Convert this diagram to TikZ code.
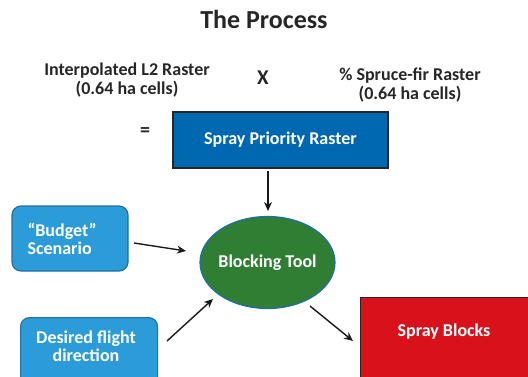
\documentclass[tikz,border=0pt]{standalone}
\usepackage{fontspec}
\setmainfont{Carlito}
\usetikzlibrary{shapes.geometric,arrows.meta}
\definecolor{boxblue}{HTML}{0067B1}
\definecolor{lightblue}{HTML}{2B9CD8}
\definecolor{lbborder}{HTML}{1F6FA8}
\definecolor{dkgreen}{HTML}{2F7E34}
\definecolor{spred}{HTML}{D9111B}
\definecolor{txt}{HTML}{262626}
\tikzset{
  lbl/.style={font=\bfseries\fontsize{18}{18.5}\selectfont, text=txt, align=center},
  sqbox/.style={draw=txt, line width=1.2pt, text=white, font=\bfseries\fontsize{18}{18.5}\selectfont},
  rbox/.style={draw=lbborder, line width=1.2pt, fill=lightblue, rounded corners=9pt},
  arr/.style={-{Stealth[length=9pt,width=8pt]}, line width=1.4pt, black!90}
}
\begin{document}
\begin{tikzpicture}[x=1pt,y=1pt]
\useasboundingbox (0,0) rectangle (528,376);
\node[font=\bfseries\fontsize{26}{28}\selectfont, text=txt] (title) at (264,357) {The Process};
\node[lbl] (l2) at (127,296) {Interpolated L2 Raster\\(0.64 ha cells)};
\node[font=\bfseries\fontsize{21}{22}\selectfont, text=txt] (x) at (263,298) {X};
\node[lbl] (sf) at (410,291) {\% Spruce-fir Raster\\(0.64 ha cells)};
\node[font=\bfseries\fontsize{20}{22}\selectfont, text=txt] (eq) at (145,244) {=};
\node[sqbox, fill=boxblue, minimum width=215pt, minimum height=56pt] (spr) at (280.5,236) {Spray Priority Raster};
\node[ellipse, draw=lbborder, line width=1.2pt, fill=dkgreen, minimum width=135pt, minimum height=92pt, inner sep=0pt] (bt) at (267.5,113.5) {};
\node[lbl, text=white] (btt) at (bt.center) {Blocking Tool};
\node[rbox, minimum width=116pt, minimum height=65pt] (bud) at (70,137.5) {};
\node[lbl, text=white, align=left, anchor=west] (budt) at (24,137) {“Budget”\\Scenario};
\node[rbox, minimum width=137pt, minimum height=70pt, anchor=north west] (dfd) at (20,59) {};
\node[lbl, text=white] (dfdt) at (86,30) {Desired flight\\direction};
\node[sqbox, fill=spred, minimum width=180pt, minimum height=88pt, anchor=north west] (sb) at (360,79) {};
\node[lbl, text=white] (sbt) at (444,44) {Spray Blocks};
\coordinate (a1s) at (268,205);
\coordinate (a1e) at (268,165);
\draw[arr] (a1s) -- (a1e);
\coordinate (a2s) at (134,133);
\coordinate (a2e) at (186,125);
\draw[arr] (a2s) -- (a2e);
\coordinate (a3s) at (167,35);
\coordinate (a3e) at (213,77);
\draw[arr] (a3s) -- (a3e);
\coordinate (a4s) at (310,70);
\coordinate (a4e) at (353,35);
\draw[arr] (a4s) -- (a4e);
\end{tikzpicture}
\end{document}
